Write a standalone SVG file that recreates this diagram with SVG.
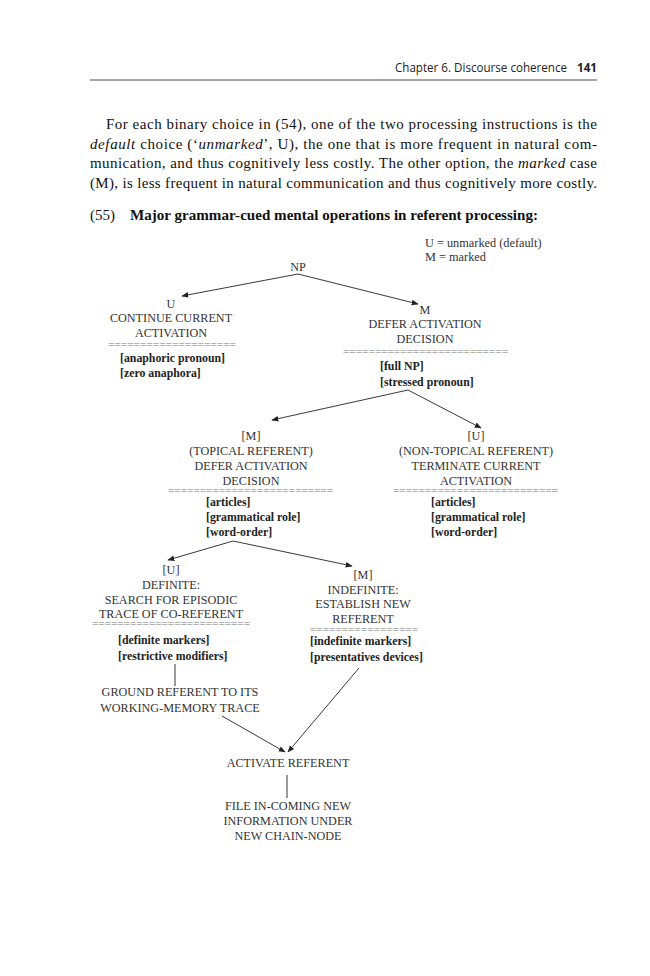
<svg xmlns="http://www.w3.org/2000/svg" width="650" height="976" viewBox="0 0 650 976">
<style>
.hd{font-family:"Open Sans","Liberation Sans",sans-serif;font-size:12px;fill:#222}
.p{font-family:"Liberation Serif",serif;font-size:15px;fill:#111}
.t{font-family:"Liberation Serif",serif;font-size:15px;fill:#111}
.n{font-family:"Liberation Serif",serif;font-size:12.2px;fill:#333;text-anchor:middle}
.b{font-family:"Liberation Serif",serif;font-size:11.8px;fill:#222;font-weight:bold}
.l{font-family:"Liberation Serif",serif;font-size:12.3px;fill:#333}
.eq{font-family:"Liberation Serif",serif;font-size:11px;fill:#777}
.c{stroke:#222;stroke-width:0.9;fill:none}
</style>
<defs>
<marker id="ah" viewBox="0 0 10 10" refX="9" refY="5" markerWidth="7" markerHeight="7" orient="auto" markerUnits="userSpaceOnUse">
<path d="M0,1 L10,5 L0,9 z" fill="#222"/>
</marker>
</defs>
<rect width="650" height="976" fill="#fff"/>
<g id="header">
<text class="hd" x="395" y="72" textLength="172" lengthAdjust="spacingAndGlyphs">Chapter 6.  Discourse coherence</text>
<text class="hd" x="577" y="72" font-weight="bold" textLength="20" lengthAdjust="spacingAndGlyphs">141</text>
<line x1="90" y1="80" x2="597" y2="80" stroke="#222" stroke-width="0.8"/>
</g>
<g id="paragraph">
<text class="p" x="106" y="129" textLength="491" lengthAdjust="spacing">For each binary choice in (54), one of the two processing instructions is the</text>
<text class="p" x="90" y="149" textLength="507" lengthAdjust="spacing"><tspan font-style="italic">default</tspan> choice (‘<tspan font-style="italic">unmarked</tspan>’, U), the one that is more frequent in natural com-</text>
<text class="p" x="90" y="168" textLength="507" lengthAdjust="spacing">munication, and thus cognitively less costly. The other option, the <tspan font-style="italic">marked</tspan> case</text>
<text class="p" x="90" y="188" textLength="507" lengthAdjust="spacing">(M), is less frequent in natural communication and thus cognitively more costly.</text>
</g>
<g id="title">
<text class="t" x="90" y="220">(55)</text>
<text class="t" x="130" y="220" font-weight="bold" textLength="408" lengthAdjust="spacingAndGlyphs">Major grammar-cued mental operations in referent processing:</text>
</g>
<g id="legend">
<text class="l" x="425" y="247">U = unmarked (default)</text>
<text class="l" x="425" y="261">M = marked</text>
</g>
<g id="np"><text class="n" x="298" y="271">NP</text></g>
<g id="continue">
<text class="n" x="171" y="308">U</text>
<text class="n" x="171" y="322">CONTINUE CURRENT</text>
<text class="n" x="171" y="337">ACTIVATION</text>
<text class="eq" x="108" y="348" textLength="128" lengthAdjust="spacingAndGlyphs">====================</text>
<text class="b" x="120" y="362">[anaphoric pronoun]</text>
<text class="b" x="120" y="377">[zero anaphora]</text>
</g>
<g id="defer1">
<text class="n" x="425" y="314">M</text>
<text class="n" x="425" y="328">DEFER ACTIVATION</text>
<text class="n" x="425" y="343">DECISION</text>
<text class="eq" x="343" y="355" textLength="165" lengthAdjust="spacingAndGlyphs">==========================</text>
<text class="b" x="380" y="370">[full NP]</text>
<text class="b" x="380" y="386">[stressed pronoun]</text>
</g>
<g id="topical">
<text class="n" x="251" y="440">[M]</text>
<text class="n" x="251" y="455">(TOPICAL REFERENT)</text>
<text class="n" x="251" y="470">DEFER ACTIVATION</text>
<text class="n" x="251" y="485">DECISION</text>
<text class="eq" x="168" y="494" textLength="165" lengthAdjust="spacingAndGlyphs">==========================</text>
<text class="b" x="206" y="506">[articles]</text>
<text class="b" x="206" y="521">[grammatical role]</text>
<text class="b" x="206" y="536">[word-order]</text>
</g>
<g id="nontopical">
<text class="n" x="476" y="440">[U]</text>
<text class="n" x="476" y="455">(NON-TOPICAL REFERENT)</text>
<text class="n" x="476" y="470">TERMINATE CURRENT</text>
<text class="n" x="476" y="485">ACTIVATION</text>
<text class="eq" x="393" y="494" textLength="165" lengthAdjust="spacingAndGlyphs">==========================</text>
<text class="b" x="431" y="506">[articles]</text>
<text class="b" x="431" y="521">[grammatical role]</text>
<text class="b" x="431" y="536">[word-order]</text>
</g>
<g id="definite">
<text class="n" x="171" y="574">[U]</text>
<text class="n" x="171" y="589">DEFINITE:</text>
<text class="n" x="171" y="604">SEARCH FOR EPISODIC</text>
<text class="n" x="171" y="618">TRACE OF CO-REFERENT</text>
<text class="eq" x="92" y="627" textLength="158" lengthAdjust="spacingAndGlyphs">=========================</text>
<text class="b" x="118" y="644">[definite markers]</text>
<text class="b" x="118" y="660">[restrictive modifiers]</text>
</g>
<g id="indefinite">
<text class="n" x="363" y="579">[M]</text>
<text class="n" x="363" y="594">INDEFINITE:</text>
<text class="n" x="363" y="608">ESTABLISH NEW</text>
<text class="n" x="363" y="623">REFERENT</text>
<text class="eq" x="310" y="633" textLength="108" lengthAdjust="spacingAndGlyphs">=================</text>
<text class="b" x="310" y="645">[indefinite markers]</text>
<text class="b" x="310" y="661">[presentatives devices]</text>
</g>
<g id="ground">
<text class="n" x="180" y="696">GROUND REFERENT TO ITS</text>
<text class="n" x="180" y="712">WORKING-MEMORY TRACE</text>
</g>
<g id="activate"><text class="n" x="288" y="767">ACTIVATE REFERENT</text></g>
<g id="file">
<text class="n" x="288" y="810">FILE IN-COMING NEW</text>
<text class="n" x="288" y="825">INFORMATION UNDER</text>
<text class="n" x="288" y="840">NEW CHAIN-NODE</text>
</g>
<g id="connectors">
<line class="c" x1="298" y1="274" x2="182" y2="296" marker-end="url(#ah)"/>
<line class="c" x1="298" y1="274" x2="418" y2="304" marker-end="url(#ah)"/>
<line class="c" x1="408" y1="390" x2="272" y2="420" marker-end="url(#ah)"/>
<line class="c" x1="408" y1="390" x2="481" y2="428" marker-end="url(#ah)"/>
<line class="c" x1="233" y1="541" x2="168" y2="560" marker-end="url(#ah)"/>
<line class="c" x1="233" y1="541" x2="352" y2="566" marker-end="url(#ah)"/>
<line class="c" x1="175" y1="664" x2="175" y2="686"/>
<line class="c" x1="222" y1="716" x2="285" y2="752" marker-end="url(#ah)"/>
<line class="c" x1="359" y1="668" x2="288" y2="752" marker-end="url(#ah)"/>
<line class="c" x1="287" y1="775" x2="287" y2="798"/>
</g>
</svg>
